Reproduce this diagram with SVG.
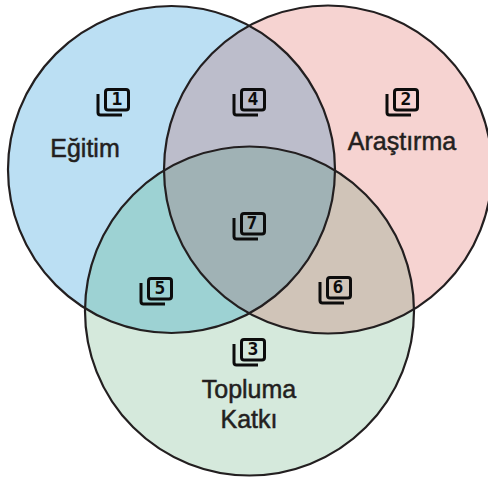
<svg xmlns="http://www.w3.org/2000/svg" width="488" height="479" viewBox="0 0 488 479">
<style>
.o{fill:none;stroke:#231f20;stroke-width:2.2}
.f{fill:none;stroke:#0c0c0c;stroke-width:3}
.n{font:bold 18px "DejaVu Sans Mono",monospace;fill:#0c0c0c;text-anchor:middle}
.l{font:25px "Liberation Sans",Arial,sans-serif;fill:#231f20;stroke:#231f20;stroke-width:.5;text-anchor:middle}
</style>
<defs>
<clipPath id="a"><circle cx="171.500" cy="169.500" r="163.500"/></clipPath>
<clipPath id="b"><circle cx="328" cy="169.500" r="164"/></clipPath>
<clipPath id="c"><circle cx="249.500" cy="311" r="164.500"/></clipPath>
<g id="i"><rect x="1.500" y="1.500" width="23" height="20.600" rx="2.500" class="f"/><path d="M-6 6V24.500a2.500 2.500 0 0 0 2.500 2.500H18" class="f"/></g>
</defs>
<g id="regions">
<circle cx="171.500" cy="169.500" r="163.500" fill="#bbdff3"/>
<circle cx="328" cy="169.500" r="164" fill="#f6d3d1"/>
<circle cx="249.500" cy="311" r="164.500" fill="#d5e9dc"/>
<g clip-path="url(#a)"><circle cx="328" cy="169.500" r="164" fill="#bcbdcb"/><circle cx="249.500" cy="311" r="164.500" fill="#9dd2d3"/></g>
<g clip-path="url(#b)"><circle cx="249.500" cy="311" r="164.500" fill="#d0c4b8"/></g>
<g clip-path="url(#a)"><g clip-path="url(#b)"><circle cx="249.500" cy="311" r="164.500" fill="#a0b2b5"/></g></g>
</g>
<g id="connectors">
<circle cx="171.500" cy="169.500" r="163.500" class="o"/>
<circle cx="328" cy="169.500" r="164" class="o"/>
<circle cx="249.500" cy="311" r="164.500" class="o"/>
</g>
<g id="node-1"><use href="#i" x="104" y="88"/><text class="n" x="117" y="105">1</text><text class="l" x="85" y="157">Eğitim</text></g>
<g id="node-2"><use href="#i" x="393" y="88"/><text class="n" x="406" y="105">2</text><text class="l" x="402" y="150">Araştırma</text></g>
<g id="node-3"><use href="#i" x="240" y="338"/><text class="n" x="253" y="355">3</text><text class="l" x="249" y="398">Topluma</text><text class="l" x="249" y="428">Katkı</text></g>
<g id="node-4"><use href="#i" x="240" y="88"/><text class="n" x="253" y="105">4</text></g>
<g id="node-5"><use href="#i" x="147" y="277"/><text class="n" x="160" y="294">5</text></g>
<g id="node-6"><use href="#i" x="326" y="276"/><text class="n" x="338" y="293">6</text></g>
<g id="node-7"><use href="#i" x="240" y="212"/><text class="n" x="252" y="229">7</text></g>
</svg>
